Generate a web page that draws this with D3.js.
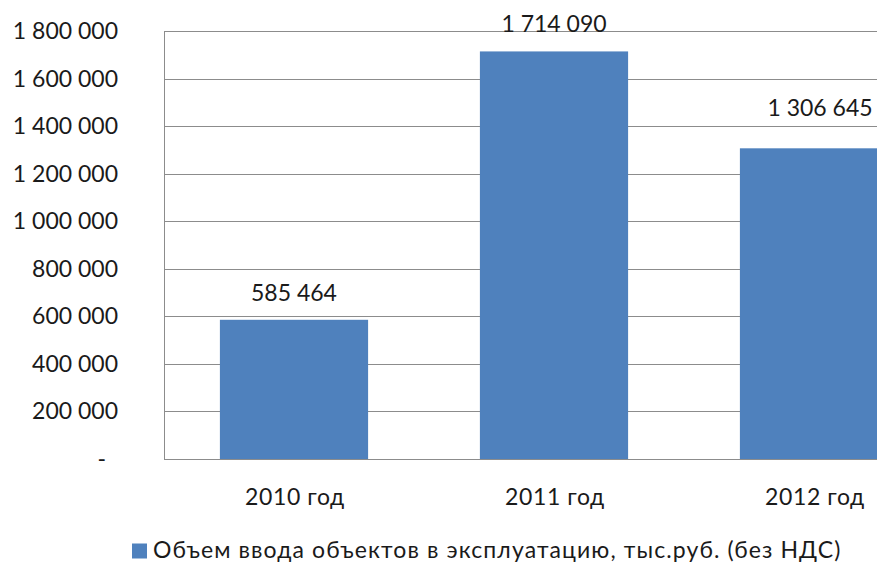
<!DOCTYPE html>
<html>
<head>
<meta charset="utf-8">
<script src="https://cdn.jsdelivr.net/npm/d3@7"></script>
<style>
  body { margin: 0; background: #fff; overflow: hidden; }
  svg { display: block; font-family: Lato, "Open Sans", sans-serif; }
</style>
</head>
<body>
<div id="chart"></div>
<script>
// data
const years = ["2010 год", "2011 год", "2012 год"];
const values = [585464, 1714090, 1306645];
const yTicks = [0, 200000, 400000, 600000, 800000, 1000000, 1200000, 1400000, 1600000, 1800000];
const seriesName = "Объем ввода объектов в эксплуатацию, тыс.руб. (без НДС)";

const W = 877, H = 564;
const margin = { top: 31, left: 164 };
const plotH = 428;
const plotW = 780; // wider than the window, the right side is cut off

const ru = d3.formatLocale({ decimal: ",", thousands: " ", grouping: [3], currency: ["", ""] });
const fmt = ru.format(",.0f");

const svg = d3.select("#chart").append("svg")
    .attr("width", W)
    .attr("height", H);

const g = svg.append("g")
    .attr("transform", "translate(" + margin.left + "," + margin.top + ")");

// scales
const x = d3.scaleBand()
    .domain(years)
    .range([0, plotW])
    .paddingInner(0.43)
    .paddingOuter(0.215);

const y = d3.scaleLinear()
    .domain([0, 1800000])
    .range([plotH, 0]);

// gridlines
g.selectAll(".grid")
    .data(yTicks)
    .enter().append("line")
    .attr("class", "grid")
    .attr("x1", 0)
    .attr("x2", plotW)
    .attr("y1", d => Math.round(y(d)) + 0.5)
    .attr("y2", d => Math.round(y(d)) + 0.5)
    .style("stroke", "#8c8c8c")
    .style("stroke-width", 1);

// left axis line
g.append("line")
    .attr("x1", 0.5).attr("x2", 0.5)
    .attr("y1", y(1800000)).attr("y2", y(0) + 0.5)
    .style("stroke", "#8c8c8c");

// y tick labels
g.selectAll(".ylab")
    .data(yTicks)
    .enter().append("text")
    .attr("class", "ylab")
    .attr("x", d => d === 0 ? -58 : -46)
    .attr("y", d => y(d))
    .attr("dy", "0.35em")
    .attr("text-anchor", "end")
    .style("font-size", "23px")
    .style("fill", "#1a1a1a")
    .text(d => d === 0 ? "-" : fmt(d));

// bars
g.selectAll(".bar")
    .data(values)
    .enter().append("rect")
    .attr("class", "bar")
    .attr("x", (d, i) => x(years[i]))
    .attr("y", d => y(d))
    .attr("width", x.bandwidth())
    .attr("height", d => y(0) - y(d))
    .style("fill", "#4f81bd");

// value labels
g.selectAll(".vlab")
    .data(values)
    .enter().append("text")
    .attr("class", "vlab")
    .attr("x", (d, i) => x(years[i]) + x.bandwidth() / 2 + (i === 2 ? 6 : 0))
    .attr("y", (d, i) => y(d) - (i === 2 ? 40 : 27))
    .attr("dy", "0.35em")
    .attr("text-anchor", "middle")
    .style("font-size", "23px")
    .style("fill", "#1a1a1a")
    .text(d => fmt(d));

// category labels
g.selectAll(".xlab")
    .data(years)
    .enter().append("text")
    .attr("class", "xlab")
    .attr("x", d => x(d) + x.bandwidth() / 2 + 1)
    .attr("y", plotH + 38)
    .attr("dy", "0.35em")
    .attr("text-anchor", "middle")
    .style("font-size", "23px")
    .style("letter-spacing", "0.6px")
    .style("fill", "#1a1a1a")
    .text(d => d);

// legend
const legend = svg.append("g")
    .attr("transform", "translate(132,550)");

legend.append("rect")
    .attr("x", 0)
    .attr("y", -6.5)
    .attr("width", 15)
    .attr("height", 15)
    .style("fill", "#4f81bd");

legend.append("text")
    .attr("x", 21)
    .attr("y", 0)
    .attr("dy", "0.35em")
    .style("font-size", "23px")
    .style("letter-spacing", "1.1px")
    .style("fill", "#1a1a1a")
    .text(seriesName);
</script>
</body>
</html>
